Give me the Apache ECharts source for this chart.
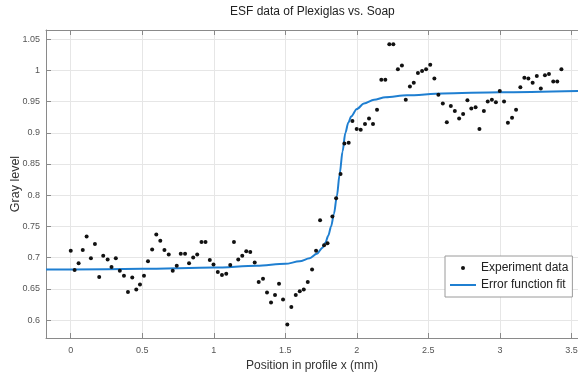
<!DOCTYPE html>
<html>
<head>
<meta charset="utf-8">
<script src="https://cdn.jsdelivr.net/npm/echarts@6/dist/echarts.min.js"></script>
<style>
  html, body { margin: 0; padding: 0; background: #fff; }
  #chart { width: 578px; height: 376px; }
</style>
</head>
<body>
<div id="chart"></div>
<script>
// measured points (position in mm, gray level)
const xPos = [
  0.000, 0.027, 0.055, 0.084, 0.111, 0.141, 0.169, 0.199, 0.227, 0.258,
  0.285, 0.315, 0.343, 0.372, 0.400, 0.430, 0.458, 0.484, 0.512, 0.540,
  0.569, 0.598, 0.626, 0.655, 0.685, 0.713, 0.741, 0.769, 0.799, 0.827,
  0.856, 0.884, 0.914, 0.942, 0.972, 0.998, 1.028, 1.057, 1.087, 1.115,
  1.141, 1.171, 1.199, 1.227, 1.255, 1.286, 1.314, 1.344, 1.372, 1.400,
  1.428, 1.456, 1.484, 1.514, 1.542, 1.573, 1.601, 1.629, 1.657, 1.687,
  1.715, 1.743, 1.771, 1.795, 1.829, 1.855, 1.886, 1.913, 1.943, 1.969,
  1.999, 2.027, 2.057, 2.085, 2.113, 2.141, 2.171, 2.199, 2.227, 2.255,
  2.287, 2.315, 2.342, 2.371, 2.398, 2.427, 2.456, 2.484, 2.513, 2.542,
  2.570, 2.601, 2.629, 2.657, 2.685, 2.715, 2.743, 2.773, 2.800, 2.830,
  2.857, 2.888, 2.915, 2.944, 2.972, 2.999, 3.029, 3.056, 3.085, 3.113,
  3.143, 3.171, 3.199, 3.229, 3.258, 3.286, 3.315, 3.343, 3.373, 3.401,
  3.430
];
const grayLevel = [
  0.711, 0.680, 0.691, 0.712, 0.734, 0.699, 0.722, 0.669, 0.703, 0.697,
  0.685, 0.699, 0.679, 0.671, 0.645, 0.668, 0.649, 0.657, 0.671, 0.694,
  0.713, 0.737, 0.727, 0.712, 0.705, 0.679, 0.687, 0.706, 0.706, 0.691,
  0.700, 0.705, 0.725, 0.725, 0.696, 0.689, 0.677, 0.672, 0.674, 0.688,
  0.725, 0.697, 0.703, 0.710, 0.709, 0.692, 0.661, 0.666, 0.644, 0.628,
  0.640, 0.658, 0.633, 0.593, 0.621, 0.640, 0.646, 0.649, 0.661, 0.681,
  0.711, 0.760, 0.720, 0.723, 0.766, 0.795, 0.834, 0.883, 0.884, 0.919,
  0.906, 0.905, 0.914, 0.923, 0.914, 0.937, 0.985, 0.985, 1.042, 1.042,
  1.002, 1.008, 0.953, 0.974, 0.980, 0.996, 0.999, 1.002, 1.009, 0.987,
  0.961, 0.947, 0.917, 0.943, 0.935, 0.923, 0.930, 0.952, 0.939, 0.941,
  0.906, 0.935, 0.950, 0.953, 0.949, 0.967, 0.950, 0.916, 0.924, 0.937,
  0.973, 0.988, 0.987, 0.980, 0.991, 0.971, 0.992, 0.994, 0.982, 0.982,
  1.002
];

// fitted curve
const fitX = [-0.173, 0, 0.5, 1.0, 1.3, 1.5, 1.6, 1.67, 1.72, 1.76, 1.78, 1.80, 1.82,
  1.84, 1.86, 1.88, 1.90, 1.92, 1.94, 1.96, 2.0, 2.05, 2.12, 2.2, 2.35, 2.6, 3.0, 3.546];
const fitY = [0.681, 0.681, 0.682, 0.684, 0.687, 0.690, 0.694, 0.699, 0.706, 0.716, 0.724, 0.735, 0.750,
  0.770, 0.798, 0.834, 0.870, 0.900, 0.916, 0.926, 0.938, 0.947, 0.953, 0.957, 0.960, 0.963, 0.965, 0.967];

const xRange = [-0.173, 3.546];
const yRange = [0.5712, 1.0647];

const FONT = "'Liberation Sans', Arial, sans-serif";
const axisGrey = '#8a8a8a';
const fitBlue = '#1f7fd1';

const chart = echarts.init(document.getElementById('chart'));

const baseX = {
  type: 'value',
  min: xRange[0],
  max: xRange[1],
  splitNumber: 7,
  axisLine: { show: true, onZero: false, lineStyle: { color: axisGrey, width: 1 } },
  axisTick: { show: true, inside: true, length: 5, lineStyle: { color: axisGrey } },
};

chart.setOption({
  animation: false,
  backgroundColor: '#fff',
  textStyle: { fontFamily: FONT },
  title: {
    text: 'ESF data of Plexiglas vs. Soap',
    left: 230,
    top: 6,
    padding: 0,
    textStyle: { fontFamily: FONT, fontSize: 12, fontWeight: 'normal', color: '#222' },
  },
  grid: { left: 46, right: 0, top: 30, bottom: 38, containLabel: false, outerBoundsMode: 'none' },
  legend: {
    orient: 'vertical',
    left: 445,
    top: 256,
    padding: [6, 4, 6, 5],
    itemWidth: 26,
    itemHeight: 12,
    itemGap: 5,
    backgroundColor: '#fff',
    borderColor: '#9a9a9a',
    borderWidth: 1,
    borderRadius: 0,
    textStyle: { fontFamily: FONT, fontSize: 12, color: '#222' },
    data: [
      { name: 'Experiment data', icon: 'path://M0,0 M26,12 M11,6 a2,2 0 1,0 4,0 a2,2 0 1,0 -4,0 Z', itemStyle: { color: '#111' } },
      { name: 'Error function fit', icon: 'path://M0,0 M26,12 M0,5 L26,5 L26,7 L0,7 Z', itemStyle: { color: fitBlue } },
    ],
  },
  xAxis: [
    Object.assign({}, baseX, {
      position: 'bottom',
      name: 'Position in profile x (mm)',
      nameLocation: 'middle',
      nameGap: 20,
      nameTextStyle: { fontFamily: FONT, fontSize: 12, color: '#333' },
      axisLabel: {
        fontFamily: FONT, fontSize: 9, color: '#555', margin: 8,
        showMinLabel: false, showMaxLabel: false,
      },
      splitLine: { show: true, lineStyle: { color: '#e6e6e6', width: 1 } },
    }),
    Object.assign({}, baseX, {
      position: 'top',
      axisLabel: { show: false },
      splitLine: { show: false },
    }),
  ],
  yAxis: {
    type: 'value',
    min: yRange[0],
    max: yRange[1],
    splitNumber: 10,
    name: 'Gray level',
    nameLocation: 'middle',
    nameGap: 24,
    nameMoveOverlap: false,
    nameTextStyle: { fontFamily: FONT, fontSize: 12.5, color: '#333' },
    axisLine: { show: true, onZero: false, lineStyle: { color: axisGrey, width: 1 } },
    axisTick: { show: true, inside: true, length: 5, lineStyle: { color: axisGrey } },
    axisLabel: {
      fontFamily: FONT, fontSize: 9, color: '#555', margin: 6,
      showMinLabel: false, showMaxLabel: false,
    },
    splitLine: { show: true, lineStyle: { color: '#e6e6e6', width: 1 } },
  },
  series: [
    {
      name: 'Experiment data',
      type: 'scatter',
      xAxisIndex: 0,
      symbol: 'circle',
      symbolSize: 4,
      itemStyle: { color: '#111', opacity: 1 },
      data: xPos.map((x, i) => [x, grayLevel[i]]),
      z: 3,
    },
    {
      name: 'Error function fit',
      type: 'line',
      xAxisIndex: 0,
      showSymbol: false,
      symbol: 'none',
      smooth: 0.3,
      smoothMonotone: 'x',
      lineStyle: { color: fitBlue, width: 2 },
      itemStyle: { color: fitBlue },
      data: fitX.map((x, i) => [x, fitY[i]]),
      z: 2,
    },
  ],
});
</script>
</body>
</html>
